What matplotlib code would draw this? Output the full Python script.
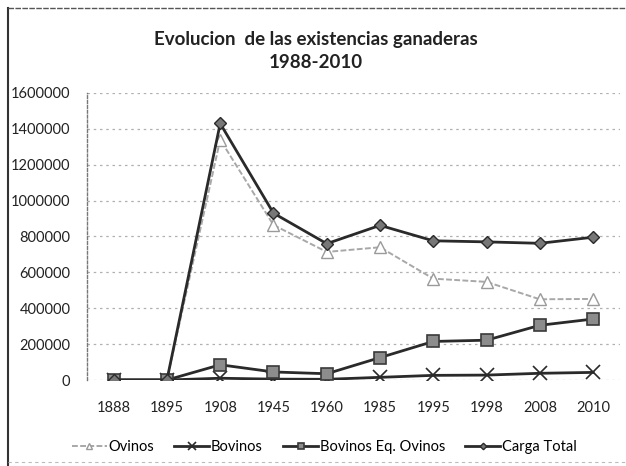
import matplotlib
matplotlib.use("Agg")
import matplotlib.pyplot as plt
from matplotlib.lines import Line2D

years = ["1888", "1895", "1908", "1945", "1960", "1985", "1995", "1998", "2008", "2010"]
ovinos = [0, 0, 1340000, 864000, 714000, 740000, 565000, 547000, 450000, 452000]
bovinos = [0, 0, 10000, 5000, 4000, 15000, 26000, 27500, 37500, 42500]
bovinos_eq = [0, 0, 85000, 45000, 35000, 125000, 215000, 222000, 305000, 340000]
carga_total = [0, 0, 1430000, 930000, 760000, 862000, 776000, 770000, 762000, 796000]
yticks = [0, 200000, 400000, 600000, 800000, 1000000, 1200000, 1400000, 1600000]

title = "Evolucion  de las existencias ganaderas\n1988-2010"

plt.rcParams['font.family'] = ['Lato', 'DejaVu Sans']

fig = plt.figure(figsize=(6.26, 4.66), dpi=100)
ax = fig.add_axes([0.139, 0.1845, 0.851, 0.616])

x = list(range(len(years)))
dark = "#2a2a2a"
ax.plot(x, ovinos, color="#a8a8a8", lw=1.4, ls=(0, (3, 1.2)), marker="^", ms=8,
        mfc="white", mec="#9a9a9a", mew=1.0, label="Ovinos", zorder=3)
ax.plot(x, bovinos, color=dark, lw=2.0, marker="x", ms=10, mec=dark, mew=1.2,
        label="Bovinos", zorder=4)
ax.plot(x, bovinos_eq, color=dark, lw=2.0, marker="s", ms=9, mfc="#8c8c8c",
        mec="#3a3a3a", mew=1.2, label="Bovinos Eq. Ovinos", zorder=5)
ax.plot(x, carga_total, color=dark, lw=2.0, marker="D", ms=6, mfc="#777777",
        mec=dark, mew=1.0, label="Carga Total", zorder=6)

ax.set_xlim(-0.5, len(years) - 0.5)
ax.set_ylim(0, 1600000)
ax.set_xticks(x)
ax.set_xticklabels(years)
ax.set_yticks(yticks)
ax.set_yticklabels([str(v) for v in yticks])
ax.tick_params(axis="both", length=0, labelsize=10.5, colors="#222222")
ax.tick_params(axis="y", pad=12)
ax.tick_params(axis="x", pad=15)
ax.grid(axis="y", color="#b0b0b0", ls=(0, (2, 3)), lw=0.9)
ax.set_axisbelow(True)
for s in ["top", "right", "bottom"]:
    ax.spines[s].set_visible(False)
ax.spines["left"].set_color("#777777")
ax.spines["left"].set_linestyle((0, (2, 1.5)))
ax.spines["left"].set_linewidth(1.0)

fig.text(0.505, 0.891, title, ha="center", va="center", fontsize=13.5,
         fontweight="bold", color="#222222", linespacing=1.4)

leg = fig.legend(loc="center", bbox_to_anchor=(0.518, 0.041), ncol=4, frameon=False,
                 fontsize=10.5, handlelength=2.4, columnspacing=1.4,
                 handletextpad=0.1, markerscale=0.55)

# scanned chart border
fig.add_artist(Line2D([0.013, 0.013], [0.0, 0.983], color="#333333", lw=1.5,
                      transform=fig.transFigure))
fig.add_artist(Line2D([0.013, 1.0], [0.983, 0.983], color="#555555", lw=1.0,
                      ls=(0, (4, 1)), transform=fig.transFigure))
fig.add_artist(Line2D([0.013, 1.0], [0.008, 0.008], color="#bbbbbb", lw=0.8,
                      ls=(0, (3, 3)), transform=fig.transFigure))

fig.savefig("out.png", dpi=100, facecolor="white")
